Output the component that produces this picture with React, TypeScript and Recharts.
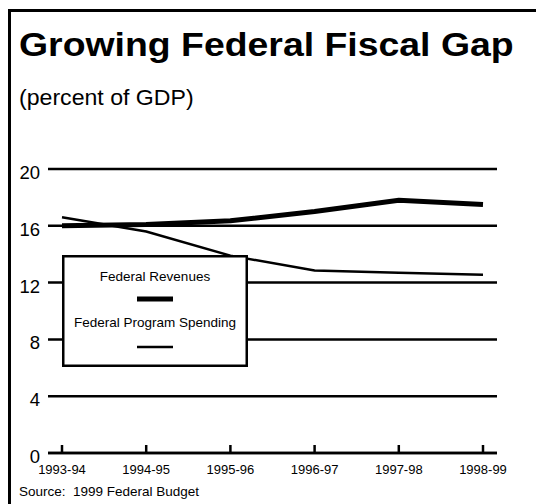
import { CartesianGrid, Legend, Line, LineChart, XAxis, YAxis } from "recharts"

const years = ["1993-94", "1994-95", "1995-96", "1996-97", "1997-98", "1998-99"]
const revenues = [16.0, 16.1, 16.35, 17.0, 17.8, 17.5]
const programSpending = [16.6, 15.6, 13.9, 12.85, 12.7, 12.55]
const yTicks = [0, 4, 8, 12, 16, 20]
const seriesNames = ["Federal Revenues", "Federal Program Spending"]

const data = years.map((year, i) => ({
  year,
  revenues: revenues[i],
  spending: programSpending[i],
}))

const FONT = "'Liberation Sans', Arial, Helvetica, sans-serif"

// ticks drawn upward from the axis, label underneath
const XTick = ({ x, y, payload }: any) => (
  <g>
    <line x1={x} x2={x} y1={y} y2={y - 8} stroke="#000" strokeWidth={2.5} />
    <text x={x} y={y + 21} textAnchor="middle" fontSize={13} fontFamily={FONT} fill="#000">
      {payload.value}
    </text>
  </g>
)

const YTick = ({ x, y, payload }: any) => (
  <text x={x - 8} y={y + 10} textAnchor="end" fontSize={18.5} fontFamily={FONT} fill="#000">
    {payload.value}
  </text>
)

const LegendBox = ({ payload }: any) => {
  const items = [...(payload || [])].sort(
    (a: any, b: any) => seriesNames.indexOf(a.value) - seriesNames.indexOf(b.value)
  )
  return (
    <svg width={186} height={112} style={{ display: "block" }}>
      <rect x={1.25} y={1.25} width={183.5} height={109.5} fill="#fff" stroke="#000" strokeWidth={2.5} />
      {items.map((entry: any, i: number) => (
        <g key={entry.value}>
          <text x={93} y={26 + i * 46} textAnchor="middle" fontSize={13.5} fontFamily={FONT} fill="#000">
            {entry.value}
          </text>
          <line
            x1={75}
            x2={111}
            y1={44 + i * 48}
            y2={44 + i * 48}
            stroke="#000"
            strokeWidth={entry.payload?.strokeWidth ?? 2.5}
          />
        </g>
      ))}
    </svg>
  )
}

export default function App() {
  return (
    <div
      style={{
        position: "absolute",
        left: 0,
        top: 0,
        width: 536,
        height: 504,
        background: "#fff",
        overflow: "hidden",
        fontFamily: FONT,
        color: "#000",
      }}
    >
      <div
        style={{
          position: "absolute",
          left: 8,
          top: 9,
          width: 536,
          height: 504,
          borderTop: "3px solid #000",
          borderLeft: "3px solid #000",
          boxSizing: "border-box",
        }}
      />
      <div
        style={{
          position: "absolute",
          left: 19,
          top: 27,
          fontSize: 34,
          fontWeight: "bold",
          lineHeight: 1,
          whiteSpace: "nowrap",
          transform: "scaleX(1.1)",
          transformOrigin: "left top",
        }}
      >
        Growing Federal Fiscal Gap
      </div>
      <div
        style={{
          position: "absolute",
          left: 19,
          top: 87,
          fontSize: 22,
          lineHeight: 1,
          whiteSpace: "nowrap",
          transform: "scaleX(1.05)",
          transformOrigin: "left top",
        }}
      >
        (percent of GDP)
      </div>
      <div
        style={{
          position: "absolute",
          left: 19,
          top: 485,
          fontSize: 13.5,
          lineHeight: 1,
          whiteSpace: "pre",
        }}
      >
        {"Source:  1999 Federal Budget"}
      </div>

      <div style={{ position: "absolute", left: 0, top: 0 }}>
        <LineChart width={536} height={504} data={data} margin={{ top: 169, right: 39, bottom: 21, left: 0 }}>
          <CartesianGrid vertical={false} stroke="#000" strokeWidth={2.5} />
          <XAxis
            dataKey="year"
            height={30}
            padding={{ left: 14, right: 14 }}
            interval={0}
            axisLine={{ stroke: "#000", strokeWidth: 2.5 }}
            tickLine={false}
            tickSize={0}
            tickMargin={0}
            tick={<XTick />}
          />
          <YAxis
            width={48}
            domain={[0, 20]}
            ticks={yTicks}
            axisLine={false}
            tickLine={false}
            tickSize={0}
            tickMargin={0}
            tick={<YTick />}
          />
          <Legend
            layout="horizontal"
            verticalAlign="middle"
            align="center"
            width={186}
            height={112}
            wrapperStyle={{ left: 62, top: 255, width: 186, height: 112 }}
            content={<LegendBox />}
          />
          <Line
            dataKey="revenues"
            name={seriesNames[0]}
            stroke="#000"
            strokeWidth={5}
            dot={false}
            activeDot={false}
            isAnimationActive={false}
          />
          <Line
            dataKey="spending"
            name={seriesNames[1]}
            stroke="#000"
            strokeWidth={2.5}
            dot={false}
            activeDot={false}
            isAnimationActive={false}
          />
        </LineChart>
      </div>
    </div>
  )
}
